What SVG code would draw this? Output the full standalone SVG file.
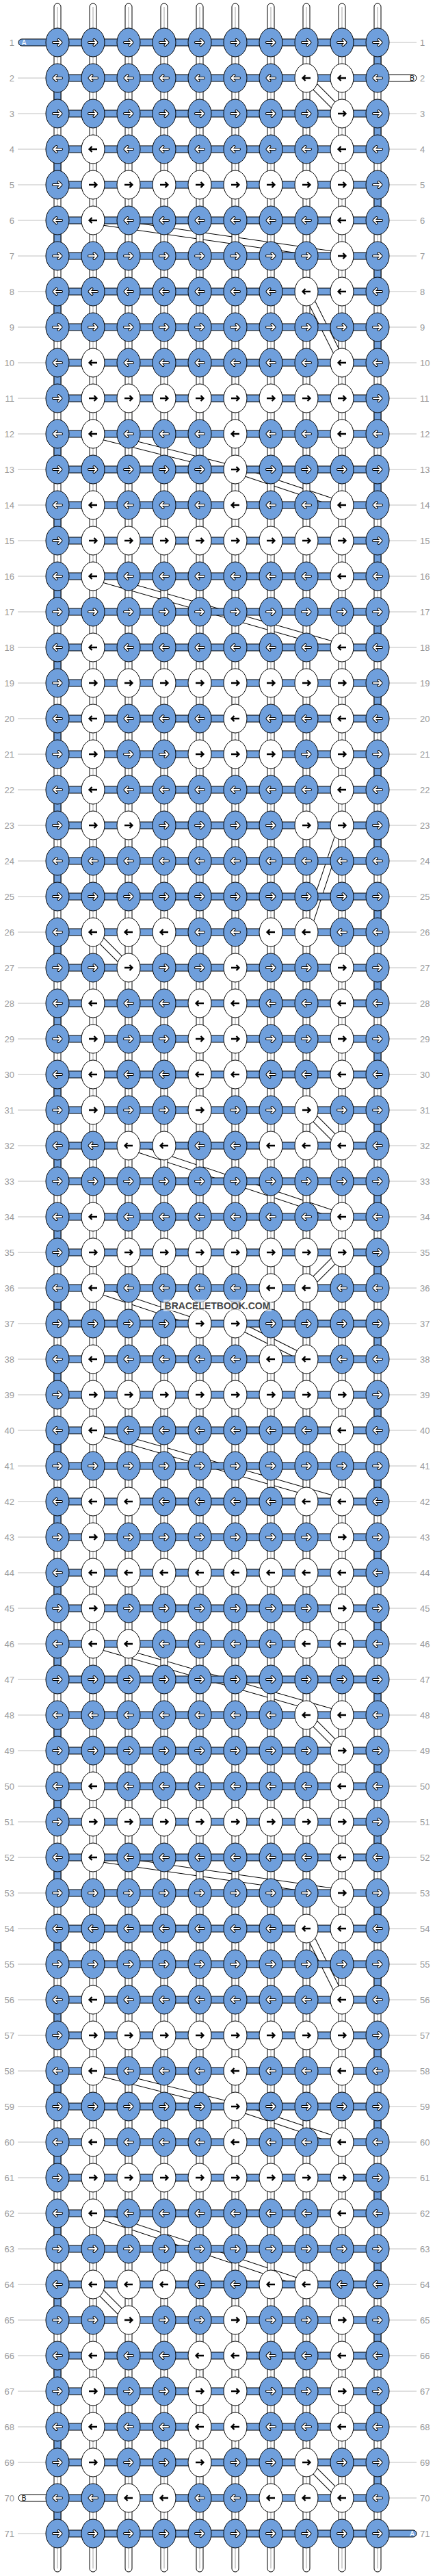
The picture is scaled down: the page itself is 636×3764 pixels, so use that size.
<svg xmlns="http://www.w3.org/2000/svg" xmlns:xlink="http://www.w3.org/1999/xlink" width="636" height="3764" viewBox="0 0 636 3764">
<style>
.eb{fill:#6f9fdc;stroke:#000;stroke-width:1}
.ew{fill:#fff;stroke:#000;stroke-width:1}
.ao{fill:none;stroke:#000;stroke-width:4;stroke-linecap:round;stroke-linejoin:round}
.ai{fill:none;stroke:#fff;stroke-width:2;stroke-linecap:round;stroke-linejoin:round}
.ak{fill:none;stroke:#000;stroke-width:2.3;stroke-linejoin:miter}
.bk{fill:none;stroke:#000;stroke-width:11}
.bw{fill:none;stroke:#fff;stroke-width:9}
.vt{fill:#fff;stroke:#000;stroke-width:1}
.vc{fill:none;stroke:#c4c4c4;stroke-width:1.5}
.ek{fill:none;stroke:#000;stroke-width:11;stroke-dasharray:52 52}
.eu{fill:none;stroke:#6f9fdc;stroke-width:9;stroke-dasharray:52 52}
.hs{fill:#6f9fdc;stroke:#000;stroke-width:1}
.tA{fill:#6f9fdc;stroke:#000;stroke-width:1}
.tB{fill:#fff;stroke:#000;stroke-width:1}
.ln{font-family:"Liberation Sans",Arial,sans-serif;font-size:13px;fill:#999}
.le{text-anchor:end}
.gl{fill:none;stroke:#c0c0c0;stroke-width:1}
.tl{font-family:"Liberation Sans",Arial,sans-serif;font-size:10px;text-anchor:middle}
.wm{font-family:"Liberation Sans",Arial,sans-serif;font-size:14px;font-weight:bold;fill:#444;text-anchor:middle}
</style>
<defs>
<path id="ar" d="M-6,0H5M1.5,-4L5.5,0L1.5,4"/>
<path id="al" d="M6,0H-5M-1.5,-4L-5.5,0L-1.5,4"/>
<g id="RB"><ellipse class="eb" rx="17" ry="21"/><use href="#ar" class="ao"/><use href="#ar" class="ai"/></g>
<g id="LB"><ellipse class="eb" rx="17" ry="21"/><use href="#al" class="ao"/><use href="#al" class="ai"/></g>
<g id="RW"><ellipse class="ew" rx="17" ry="21"/><use href="#ar" class="ak"/></g>
<g id="LW"><ellipse class="ew" rx="17" ry="21"/><use href="#al" class="ak"/></g>
<path id="bands" d="M448,114L500,166M136,322L500,374M448,426L500,530M136,634L344,686M344,686L500,738M136,842L500,946M500,1206L448,1362M136,1362L188,1414M448,1622L500,1674M188,1674L500,1778M500,1830L448,1882M136,1882L292,1934M344,1934L448,1986M136,2090L500,2194M136,2402L500,2506M448,2506L500,2558M136,2714L500,2766M448,2818L500,2922M136,3026L344,3078M344,3078L500,3130M136,3234L448,3338M136,3338L188,3390M448,3598L500,3650"/>
</defs>
<rect width="636" height="3764" fill="#fff"/>
<g id="connectors">
<use href="#bands" class="bk"/>
<use href="#bands" class="bw"/>
<g id="columns">
<rect class="vt" x="79" y="5" width="10" height="3753" rx="5"/>
<rect class="vt" x="131" y="5" width="10" height="3753" rx="5"/>
<rect class="vt" x="183" y="5" width="10" height="3753" rx="5"/>
<rect class="vt" x="235" y="5" width="10" height="3753" rx="5"/>
<rect class="vt" x="287" y="5" width="10" height="3753" rx="5"/>
<rect class="vt" x="339" y="5" width="10" height="3753" rx="5"/>
<rect class="vt" x="391" y="5" width="10" height="3753" rx="5"/>
<rect class="vt" x="443" y="5" width="10" height="3753" rx="5"/>
<rect class="vt" x="495" y="5" width="10" height="3753" rx="5"/>
<rect class="vt" x="547" y="5" width="10" height="3753" rx="5"/>
<path class="vc" d="M84,10V3753M136,10V3753M188,10V3753M240,10V3753M292,10V3753M344,10V3753M396,10V3753M448,10V3753M500,10V3753M552,10V3753"/>
</g>
<g id="edges">
<path class="ek" d="M84,114V3702"/><path class="eu" d="M84,114V3702"/>
<path class="ek" d="M552,62V3702"/><path class="eu" d="M552,62V3702"/>
</g>
<g id="rows-h">
<rect class="hs" x="84" y="57" width="468" height="10"/><rect class="hs" x="84" y="109" width="468" height="10"/><rect class="hs" x="84" y="161" width="468" height="10"/><rect class="hs" x="84" y="213" width="468" height="10"/><rect class="hs" x="84" y="265" width="468" height="10"/><rect class="hs" x="84" y="317" width="468" height="10"/><rect class="hs" x="84" y="369" width="468" height="10"/><rect class="hs" x="84" y="421" width="468" height="10"/><rect class="hs" x="84" y="473" width="468" height="10"/><rect class="hs" x="84" y="525" width="468" height="10"/>
<rect class="hs" x="84" y="577" width="468" height="10"/><rect class="hs" x="84" y="629" width="468" height="10"/><rect class="hs" x="84" y="681" width="468" height="10"/><rect class="hs" x="84" y="733" width="468" height="10"/><rect class="hs" x="84" y="785" width="468" height="10"/><rect class="hs" x="84" y="837" width="468" height="10"/><rect class="hs" x="84" y="889" width="468" height="10"/><rect class="hs" x="84" y="941" width="468" height="10"/><rect class="hs" x="84" y="993" width="468" height="10"/><rect class="hs" x="84" y="1045" width="468" height="10"/>
<rect class="hs" x="84" y="1097" width="468" height="10"/><rect class="hs" x="84" y="1149" width="468" height="10"/><rect class="hs" x="84" y="1201" width="468" height="10"/><rect class="hs" x="84" y="1253" width="468" height="10"/><rect class="hs" x="84" y="1305" width="468" height="10"/><rect class="hs" x="84" y="1357" width="468" height="10"/><rect class="hs" x="84" y="1409" width="468" height="10"/><rect class="hs" x="84" y="1461" width="468" height="10"/><rect class="hs" x="84" y="1513" width="468" height="10"/><rect class="hs" x="84" y="1565" width="468" height="10"/>
<rect class="hs" x="84" y="1617" width="468" height="10"/><rect class="hs" x="84" y="1669" width="468" height="10"/><rect class="hs" x="84" y="1721" width="468" height="10"/><rect class="hs" x="84" y="1773" width="468" height="10"/><rect class="hs" x="84" y="1825" width="468" height="10"/><rect class="hs" x="84" y="1877" width="468" height="10"/><rect class="hs" x="84" y="1929" width="468" height="10"/><rect class="hs" x="84" y="1981" width="468" height="10"/><rect class="hs" x="84" y="2033" width="468" height="10"/><rect class="hs" x="84" y="2085" width="468" height="10"/>
<rect class="hs" x="84" y="2137" width="468" height="10"/><rect class="hs" x="84" y="2189" width="468" height="10"/><rect class="hs" x="84" y="2241" width="468" height="10"/><rect class="hs" x="84" y="2293" width="468" height="10"/><rect class="hs" x="84" y="2345" width="468" height="10"/><rect class="hs" x="84" y="2397" width="468" height="10"/><rect class="hs" x="84" y="2449" width="468" height="10"/><rect class="hs" x="84" y="2501" width="468" height="10"/><rect class="hs" x="84" y="2553" width="468" height="10"/><rect class="hs" x="84" y="2605" width="468" height="10"/>
<rect class="hs" x="84" y="2657" width="468" height="10"/><rect class="hs" x="84" y="2709" width="468" height="10"/><rect class="hs" x="84" y="2761" width="468" height="10"/><rect class="hs" x="84" y="2813" width="468" height="10"/><rect class="hs" x="84" y="2865" width="468" height="10"/><rect class="hs" x="84" y="2917" width="468" height="10"/><rect class="hs" x="84" y="2969" width="468" height="10"/><rect class="hs" x="84" y="3021" width="468" height="10"/><rect class="hs" x="84" y="3073" width="468" height="10"/><rect class="hs" x="84" y="3125" width="468" height="10"/>
<rect class="hs" x="84" y="3177" width="468" height="10"/><rect class="hs" x="84" y="3229" width="468" height="10"/><rect class="hs" x="84" y="3281" width="468" height="10"/><rect class="hs" x="84" y="3333" width="468" height="10"/><rect class="hs" x="84" y="3385" width="468" height="10"/><rect class="hs" x="84" y="3437" width="468" height="10"/><rect class="hs" x="84" y="3489" width="468" height="10"/><rect class="hs" x="84" y="3541" width="468" height="10"/><rect class="hs" x="84" y="3593" width="468" height="10"/><rect class="hs" x="84" y="3645" width="468" height="10"/>
<rect class="hs" x="84" y="3697" width="468" height="10"/>
</g>
<g id="ends">
<rect class="tA" x="27" y="57" width="60" height="10" rx="5"/><text class="tl" x="35" y="65.5" fill="#fff">A</text>
<rect class="tB" x="549" y="109" width="60" height="10" rx="5"/><text class="tl" x="602.5" y="117.5" fill="#000">B</text>
<rect class="tB" x="27" y="3645" width="60" height="10" rx="5"/><text class="tl" x="35" y="3653.5" fill="#000">B</text>
<rect class="tA" x="549" y="3697" width="60" height="10" rx="5"/><text class="tl" x="602.5" y="3705.5" fill="#fff">A</text>
</g>
</g>
<g id="nodes">
<g id="row1" transform="translate(0,62)"><text class="ln le" x="21" y="4.5">1</text><text class="ln" x="614" y="4.5">1</text><path class="gl" d="M569,0H609"/><g id="n1-1"><use href="#RB" x="84"/></g><g id="n1-2"><use href="#RB" x="136"/></g><g id="n1-3"><use href="#RB" x="188"/></g><g id="n1-4"><use href="#RB" x="240"/></g><g id="n1-5"><use href="#RB" x="292"/></g><g id="n1-6"><use href="#RB" x="344"/></g><g id="n1-7"><use href="#RB" x="396"/></g><g id="n1-8"><use href="#RB" x="448"/></g><g id="n1-9"><use href="#RB" x="500"/></g><g id="n1-10"><use href="#RB" x="552"/></g></g>
<g id="row2" transform="translate(0,114)"><text class="ln le" x="21" y="4.5">2</text><text class="ln" x="614" y="4.5">2</text><path class="gl" d="M26,0H67"/><g id="n2-1"><use href="#LB" x="84"/></g><g id="n2-2"><use href="#LB" x="136"/></g><g id="n2-3"><use href="#LB" x="188"/></g><g id="n2-4"><use href="#LB" x="240"/></g><g id="n2-5"><use href="#LB" x="292"/></g><g id="n2-6"><use href="#LB" x="344"/></g><g id="n2-7"><use href="#LB" x="396"/></g><g id="n2-8"><use href="#LW" x="448"/></g><g id="n2-9"><use href="#LW" x="500"/></g><g id="n2-10"><use href="#LB" x="552"/></g></g>
<g id="row3" transform="translate(0,166)"><text class="ln le" x="21" y="4.5">3</text><text class="ln" x="614" y="4.5">3</text><path class="gl" d="M26,0H67M569,0H609"/><g id="n3-1"><use href="#RB" x="84"/></g><g id="n3-2"><use href="#RB" x="136"/></g><g id="n3-3"><use href="#RB" x="188"/></g><g id="n3-4"><use href="#RB" x="240"/></g><g id="n3-5"><use href="#RB" x="292"/></g><g id="n3-6"><use href="#RB" x="344"/></g><g id="n3-7"><use href="#RB" x="396"/></g><g id="n3-8"><use href="#RB" x="448"/></g><g id="n3-9"><use href="#RW" x="500"/></g><g id="n3-10"><use href="#RB" x="552"/></g></g>
<g id="row4" transform="translate(0,218)"><text class="ln le" x="21" y="4.5">4</text><text class="ln" x="614" y="4.5">4</text><path class="gl" d="M26,0H67M569,0H609"/><g id="n4-1"><use href="#LB" x="84"/></g><g id="n4-2"><use href="#LW" x="136"/></g><g id="n4-3"><use href="#LB" x="188"/></g><g id="n4-4"><use href="#LB" x="240"/></g><g id="n4-5"><use href="#LB" x="292"/></g><g id="n4-6"><use href="#LB" x="344"/></g><g id="n4-7"><use href="#LB" x="396"/></g><g id="n4-8"><use href="#LB" x="448"/></g><g id="n4-9"><use href="#LW" x="500"/></g><g id="n4-10"><use href="#LB" x="552"/></g></g>
<g id="row5" transform="translate(0,270)"><text class="ln le" x="21" y="4.5">5</text><text class="ln" x="614" y="4.5">5</text><path class="gl" d="M26,0H67M569,0H609"/><g id="n5-1"><use href="#RB" x="84"/></g><g id="n5-2"><use href="#RW" x="136"/></g><g id="n5-3"><use href="#RW" x="188"/></g><g id="n5-4"><use href="#RW" x="240"/></g><g id="n5-5"><use href="#RW" x="292"/></g><g id="n5-6"><use href="#RW" x="344"/></g><g id="n5-7"><use href="#RW" x="396"/></g><g id="n5-8"><use href="#RW" x="448"/></g><g id="n5-9"><use href="#RW" x="500"/></g><g id="n5-10"><use href="#RB" x="552"/></g></g>
<g id="row6" transform="translate(0,322)"><text class="ln le" x="21" y="4.5">6</text><text class="ln" x="614" y="4.5">6</text><path class="gl" d="M26,0H67M569,0H609"/><g id="n6-1"><use href="#LB" x="84"/></g><g id="n6-2"><use href="#LW" x="136"/></g><g id="n6-3"><use href="#LB" x="188"/></g><g id="n6-4"><use href="#LB" x="240"/></g><g id="n6-5"><use href="#LB" x="292"/></g><g id="n6-6"><use href="#LB" x="344"/></g><g id="n6-7"><use href="#LB" x="396"/></g><g id="n6-8"><use href="#LB" x="448"/></g><g id="n6-9"><use href="#LW" x="500"/></g><g id="n6-10"><use href="#LB" x="552"/></g></g>
<g id="row7" transform="translate(0,374)"><text class="ln le" x="21" y="4.5">7</text><text class="ln" x="614" y="4.5">7</text><path class="gl" d="M26,0H67M569,0H609"/><g id="n7-1"><use href="#RB" x="84"/></g><g id="n7-2"><use href="#RB" x="136"/></g><g id="n7-3"><use href="#RB" x="188"/></g><g id="n7-4"><use href="#RB" x="240"/></g><g id="n7-5"><use href="#RB" x="292"/></g><g id="n7-6"><use href="#RB" x="344"/></g><g id="n7-7"><use href="#RB" x="396"/></g><g id="n7-8"><use href="#RB" x="448"/></g><g id="n7-9"><use href="#RW" x="500"/></g><g id="n7-10"><use href="#RB" x="552"/></g></g>
<g id="row8" transform="translate(0,426)"><text class="ln le" x="21" y="4.5">8</text><text class="ln" x="614" y="4.5">8</text><path class="gl" d="M26,0H67M569,0H609"/><g id="n8-1"><use href="#LB" x="84"/></g><g id="n8-2"><use href="#LB" x="136"/></g><g id="n8-3"><use href="#LB" x="188"/></g><g id="n8-4"><use href="#LB" x="240"/></g><g id="n8-5"><use href="#LB" x="292"/></g><g id="n8-6"><use href="#LB" x="344"/></g><g id="n8-7"><use href="#LB" x="396"/></g><g id="n8-8"><use href="#LW" x="448"/></g><g id="n8-9"><use href="#LW" x="500"/></g><g id="n8-10"><use href="#LB" x="552"/></g></g>
<g id="row9" transform="translate(0,478)"><text class="ln le" x="21" y="4.5">9</text><text class="ln" x="614" y="4.5">9</text><path class="gl" d="M26,0H67M569,0H609"/><g id="n9-1"><use href="#RB" x="84"/></g><g id="n9-2"><use href="#RB" x="136"/></g><g id="n9-3"><use href="#RB" x="188"/></g><g id="n9-4"><use href="#RB" x="240"/></g><g id="n9-5"><use href="#RB" x="292"/></g><g id="n9-6"><use href="#RB" x="344"/></g><g id="n9-7"><use href="#RB" x="396"/></g><g id="n9-8"><use href="#RB" x="448"/></g><g id="n9-9"><use href="#RB" x="500"/></g><g id="n9-10"><use href="#RB" x="552"/></g></g>
<g id="row10" transform="translate(0,530)"><text class="ln le" x="21" y="4.5">10</text><text class="ln" x="614" y="4.5">10</text><path class="gl" d="M26,0H67M569,0H609"/><g id="n10-1"><use href="#LB" x="84"/></g><g id="n10-2"><use href="#LW" x="136"/></g><g id="n10-3"><use href="#LB" x="188"/></g><g id="n10-4"><use href="#LB" x="240"/></g><g id="n10-5"><use href="#LB" x="292"/></g><g id="n10-6"><use href="#LB" x="344"/></g><g id="n10-7"><use href="#LB" x="396"/></g><g id="n10-8"><use href="#LB" x="448"/></g><g id="n10-9"><use href="#LW" x="500"/></g><g id="n10-10"><use href="#LB" x="552"/></g></g>
<g id="row11" transform="translate(0,582)"><text class="ln le" x="21" y="4.5">11</text><text class="ln" x="614" y="4.5">11</text><path class="gl" d="M26,0H67M569,0H609"/><g id="n11-1"><use href="#RB" x="84"/></g><g id="n11-2"><use href="#RW" x="136"/></g><g id="n11-3"><use href="#RW" x="188"/></g><g id="n11-4"><use href="#RW" x="240"/></g><g id="n11-5"><use href="#RW" x="292"/></g><g id="n11-6"><use href="#RW" x="344"/></g><g id="n11-7"><use href="#RW" x="396"/></g><g id="n11-8"><use href="#RW" x="448"/></g><g id="n11-9"><use href="#RW" x="500"/></g><g id="n11-10"><use href="#RB" x="552"/></g></g>
<g id="row12" transform="translate(0,634)"><text class="ln le" x="21" y="4.5">12</text><text class="ln" x="614" y="4.5">12</text><path class="gl" d="M26,0H67M569,0H609"/><g id="n12-1"><use href="#LB" x="84"/></g><g id="n12-2"><use href="#LW" x="136"/></g><g id="n12-3"><use href="#LB" x="188"/></g><g id="n12-4"><use href="#LB" x="240"/></g><g id="n12-5"><use href="#LB" x="292"/></g><g id="n12-6"><use href="#LW" x="344"/></g><g id="n12-7"><use href="#LB" x="396"/></g><g id="n12-8"><use href="#LB" x="448"/></g><g id="n12-9"><use href="#LW" x="500"/></g><g id="n12-10"><use href="#LB" x="552"/></g></g>
<g id="row13" transform="translate(0,686)"><text class="ln le" x="21" y="4.5">13</text><text class="ln" x="614" y="4.5">13</text><path class="gl" d="M26,0H67M569,0H609"/><g id="n13-1"><use href="#RB" x="84"/></g><g id="n13-2"><use href="#RB" x="136"/></g><g id="n13-3"><use href="#RB" x="188"/></g><g id="n13-4"><use href="#RB" x="240"/></g><g id="n13-5"><use href="#RB" x="292"/></g><g id="n13-6"><use href="#RW" x="344"/></g><g id="n13-7"><use href="#RB" x="396"/></g><g id="n13-8"><use href="#RB" x="448"/></g><g id="n13-9"><use href="#RB" x="500"/></g><g id="n13-10"><use href="#RB" x="552"/></g></g>
<g id="row14" transform="translate(0,738)"><text class="ln le" x="21" y="4.5">14</text><text class="ln" x="614" y="4.5">14</text><path class="gl" d="M26,0H67M569,0H609"/><g id="n14-1"><use href="#LB" x="84"/></g><g id="n14-2"><use href="#LW" x="136"/></g><g id="n14-3"><use href="#LB" x="188"/></g><g id="n14-4"><use href="#LB" x="240"/></g><g id="n14-5"><use href="#LB" x="292"/></g><g id="n14-6"><use href="#LW" x="344"/></g><g id="n14-7"><use href="#LB" x="396"/></g><g id="n14-8"><use href="#LB" x="448"/></g><g id="n14-9"><use href="#LW" x="500"/></g><g id="n14-10"><use href="#LB" x="552"/></g></g>
<g id="row15" transform="translate(0,790)"><text class="ln le" x="21" y="4.5">15</text><text class="ln" x="614" y="4.5">15</text><path class="gl" d="M26,0H67M569,0H609"/><g id="n15-1"><use href="#RB" x="84"/></g><g id="n15-2"><use href="#RW" x="136"/></g><g id="n15-3"><use href="#RW" x="188"/></g><g id="n15-4"><use href="#RW" x="240"/></g><g id="n15-5"><use href="#RW" x="292"/></g><g id="n15-6"><use href="#RW" x="344"/></g><g id="n15-7"><use href="#RW" x="396"/></g><g id="n15-8"><use href="#RW" x="448"/></g><g id="n15-9"><use href="#RW" x="500"/></g><g id="n15-10"><use href="#RB" x="552"/></g></g>
<g id="row16" transform="translate(0,842)"><text class="ln le" x="21" y="4.5">16</text><text class="ln" x="614" y="4.5">16</text><path class="gl" d="M26,0H67M569,0H609"/><g id="n16-1"><use href="#LB" x="84"/></g><g id="n16-2"><use href="#LW" x="136"/></g><g id="n16-3"><use href="#LB" x="188"/></g><g id="n16-4"><use href="#LB" x="240"/></g><g id="n16-5"><use href="#LB" x="292"/></g><g id="n16-6"><use href="#LB" x="344"/></g><g id="n16-7"><use href="#LB" x="396"/></g><g id="n16-8"><use href="#LB" x="448"/></g><g id="n16-9"><use href="#LW" x="500"/></g><g id="n16-10"><use href="#LB" x="552"/></g></g>
<g id="row17" transform="translate(0,894)"><text class="ln le" x="21" y="4.5">17</text><text class="ln" x="614" y="4.5">17</text><path class="gl" d="M26,0H67M569,0H609"/><g id="n17-1"><use href="#RB" x="84"/></g><g id="n17-2"><use href="#RB" x="136"/></g><g id="n17-3"><use href="#RB" x="188"/></g><g id="n17-4"><use href="#RB" x="240"/></g><g id="n17-5"><use href="#RB" x="292"/></g><g id="n17-6"><use href="#RB" x="344"/></g><g id="n17-7"><use href="#RB" x="396"/></g><g id="n17-8"><use href="#RB" x="448"/></g><g id="n17-9"><use href="#RB" x="500"/></g><g id="n17-10"><use href="#RB" x="552"/></g></g>
<g id="row18" transform="translate(0,946)"><text class="ln le" x="21" y="4.5">18</text><text class="ln" x="614" y="4.5">18</text><path class="gl" d="M26,0H67M569,0H609"/><g id="n18-1"><use href="#LB" x="84"/></g><g id="n18-2"><use href="#LW" x="136"/></g><g id="n18-3"><use href="#LB" x="188"/></g><g id="n18-4"><use href="#LB" x="240"/></g><g id="n18-5"><use href="#LB" x="292"/></g><g id="n18-6"><use href="#LB" x="344"/></g><g id="n18-7"><use href="#LB" x="396"/></g><g id="n18-8"><use href="#LB" x="448"/></g><g id="n18-9"><use href="#LW" x="500"/></g><g id="n18-10"><use href="#LB" x="552"/></g></g>
<g id="row19" transform="translate(0,998)"><text class="ln le" x="21" y="4.5">19</text><text class="ln" x="614" y="4.5">19</text><path class="gl" d="M26,0H67M569,0H609"/><g id="n19-1"><use href="#RB" x="84"/></g><g id="n19-2"><use href="#RW" x="136"/></g><g id="n19-3"><use href="#RW" x="188"/></g><g id="n19-4"><use href="#RW" x="240"/></g><g id="n19-5"><use href="#RW" x="292"/></g><g id="n19-6"><use href="#RW" x="344"/></g><g id="n19-7"><use href="#RW" x="396"/></g><g id="n19-8"><use href="#RW" x="448"/></g><g id="n19-9"><use href="#RW" x="500"/></g><g id="n19-10"><use href="#RB" x="552"/></g></g>
<g id="row20" transform="translate(0,1050)"><text class="ln le" x="21" y="4.5">20</text><text class="ln" x="614" y="4.5">20</text><path class="gl" d="M26,0H67M569,0H609"/><g id="n20-1"><use href="#LB" x="84"/></g><g id="n20-2"><use href="#LW" x="136"/></g><g id="n20-3"><use href="#LB" x="188"/></g><g id="n20-4"><use href="#LB" x="240"/></g><g id="n20-5"><use href="#LB" x="292"/></g><g id="n20-6"><use href="#LW" x="344"/></g><g id="n20-7"><use href="#LB" x="396"/></g><g id="n20-8"><use href="#LB" x="448"/></g><g id="n20-9"><use href="#LW" x="500"/></g><g id="n20-10"><use href="#LB" x="552"/></g></g>
<g id="row21" transform="translate(0,1102)"><text class="ln le" x="21" y="4.5">21</text><text class="ln" x="614" y="4.5">21</text><path class="gl" d="M26,0H67M569,0H609"/><g id="n21-1"><use href="#RB" x="84"/></g><g id="n21-2"><use href="#RW" x="136"/></g><g id="n21-3"><use href="#RB" x="188"/></g><g id="n21-4"><use href="#RB" x="240"/></g><g id="n21-5"><use href="#RW" x="292"/></g><g id="n21-6"><use href="#RW" x="344"/></g><g id="n21-7"><use href="#RW" x="396"/></g><g id="n21-8"><use href="#RB" x="448"/></g><g id="n21-9"><use href="#RW" x="500"/></g><g id="n21-10"><use href="#RB" x="552"/></g></g>
<g id="row22" transform="translate(0,1154)"><text class="ln le" x="21" y="4.5">22</text><text class="ln" x="614" y="4.5">22</text><path class="gl" d="M26,0H67M569,0H609"/><g id="n22-1"><use href="#LB" x="84"/></g><g id="n22-2"><use href="#LW" x="136"/></g><g id="n22-3"><use href="#LB" x="188"/></g><g id="n22-4"><use href="#LB" x="240"/></g><g id="n22-5"><use href="#LB" x="292"/></g><g id="n22-6"><use href="#LB" x="344"/></g><g id="n22-7"><use href="#LB" x="396"/></g><g id="n22-8"><use href="#LB" x="448"/></g><g id="n22-9"><use href="#LW" x="500"/></g><g id="n22-10"><use href="#LB" x="552"/></g></g>
<g id="row23" transform="translate(0,1206)"><text class="ln le" x="21" y="4.5">23</text><text class="ln" x="614" y="4.5">23</text><path class="gl" d="M26,0H67M569,0H609"/><g id="n23-1"><use href="#RB" x="84"/></g><g id="n23-2"><use href="#RW" x="136"/></g><g id="n23-3"><use href="#RW" x="188"/></g><g id="n23-4"><use href="#RB" x="240"/></g><g id="n23-5"><use href="#RB" x="292"/></g><g id="n23-6"><use href="#RB" x="344"/></g><g id="n23-7"><use href="#RB" x="396"/></g><g id="n23-8"><use href="#RW" x="448"/></g><g id="n23-9"><use href="#RW" x="500"/></g><g id="n23-10"><use href="#RB" x="552"/></g></g>
<g id="row24" transform="translate(0,1258)"><text class="ln le" x="21" y="4.5">24</text><text class="ln" x="614" y="4.5">24</text><path class="gl" d="M26,0H67M569,0H609"/><g id="n24-1"><use href="#LB" x="84"/></g><g id="n24-2"><use href="#LB" x="136"/></g><g id="n24-3"><use href="#LB" x="188"/></g><g id="n24-4"><use href="#LB" x="240"/></g><g id="n24-5"><use href="#LB" x="292"/></g><g id="n24-6"><use href="#LB" x="344"/></g><g id="n24-7"><use href="#LB" x="396"/></g><g id="n24-8"><use href="#LB" x="448"/></g><g id="n24-9"><use href="#LB" x="500"/></g><g id="n24-10"><use href="#LB" x="552"/></g></g>
<g id="row25" transform="translate(0,1310)"><text class="ln le" x="21" y="4.5">25</text><text class="ln" x="614" y="4.5">25</text><path class="gl" d="M26,0H67M569,0H609"/><g id="n25-1"><use href="#RB" x="84"/></g><g id="n25-2"><use href="#RB" x="136"/></g><g id="n25-3"><use href="#RB" x="188"/></g><g id="n25-4"><use href="#RB" x="240"/></g><g id="n25-5"><use href="#RB" x="292"/></g><g id="n25-6"><use href="#RB" x="344"/></g><g id="n25-7"><use href="#RB" x="396"/></g><g id="n25-8"><use href="#RB" x="448"/></g><g id="n25-9"><use href="#RB" x="500"/></g><g id="n25-10"><use href="#RB" x="552"/></g></g>
<g id="row26" transform="translate(0,1362)"><text class="ln le" x="21" y="4.5">26</text><text class="ln" x="614" y="4.5">26</text><path class="gl" d="M26,0H67M569,0H609"/><g id="n26-1"><use href="#LB" x="84"/></g><g id="n26-2"><use href="#LW" x="136"/></g><g id="n26-3"><use href="#LW" x="188"/></g><g id="n26-4"><use href="#LW" x="240"/></g><g id="n26-5"><use href="#LB" x="292"/></g><g id="n26-6"><use href="#LB" x="344"/></g><g id="n26-7"><use href="#LW" x="396"/></g><g id="n26-8"><use href="#LW" x="448"/></g><g id="n26-9"><use href="#LB" x="500"/></g><g id="n26-10"><use href="#LB" x="552"/></g></g>
<g id="row27" transform="translate(0,1414)"><text class="ln le" x="21" y="4.5">27</text><text class="ln" x="614" y="4.5">27</text><path class="gl" d="M26,0H67M569,0H609"/><g id="n27-1"><use href="#RB" x="84"/></g><g id="n27-2"><use href="#RB" x="136"/></g><g id="n27-3"><use href="#RW" x="188"/></g><g id="n27-4"><use href="#RB" x="240"/></g><g id="n27-5"><use href="#RB" x="292"/></g><g id="n27-6"><use href="#RW" x="344"/></g><g id="n27-7"><use href="#RB" x="396"/></g><g id="n27-8"><use href="#RB" x="448"/></g><g id="n27-9"><use href="#RW" x="500"/></g><g id="n27-10"><use href="#RB" x="552"/></g></g>
<g id="row28" transform="translate(0,1466)"><text class="ln le" x="21" y="4.5">28</text><text class="ln" x="614" y="4.5">28</text><path class="gl" d="M26,0H67M569,0H609"/><g id="n28-1"><use href="#LB" x="84"/></g><g id="n28-2"><use href="#LW" x="136"/></g><g id="n28-3"><use href="#LB" x="188"/></g><g id="n28-4"><use href="#LB" x="240"/></g><g id="n28-5"><use href="#LW" x="292"/></g><g id="n28-6"><use href="#LW" x="344"/></g><g id="n28-7"><use href="#LB" x="396"/></g><g id="n28-8"><use href="#LB" x="448"/></g><g id="n28-9"><use href="#LW" x="500"/></g><g id="n28-10"><use href="#LB" x="552"/></g></g>
<g id="row29" transform="translate(0,1518)"><text class="ln le" x="21" y="4.5">29</text><text class="ln" x="614" y="4.5">29</text><path class="gl" d="M26,0H67M569,0H609"/><g id="n29-1"><use href="#RB" x="84"/></g><g id="n29-2"><use href="#RW" x="136"/></g><g id="n29-3"><use href="#RB" x="188"/></g><g id="n29-4"><use href="#RB" x="240"/></g><g id="n29-5"><use href="#RW" x="292"/></g><g id="n29-6"><use href="#RW" x="344"/></g><g id="n29-7"><use href="#RB" x="396"/></g><g id="n29-8"><use href="#RB" x="448"/></g><g id="n29-9"><use href="#RW" x="500"/></g><g id="n29-10"><use href="#RB" x="552"/></g></g>
<g id="row30" transform="translate(0,1570)"><text class="ln le" x="21" y="4.5">30</text><text class="ln" x="614" y="4.5">30</text><path class="gl" d="M26,0H67M569,0H609"/><g id="n30-1"><use href="#LB" x="84"/></g><g id="n30-2"><use href="#LW" x="136"/></g><g id="n30-3"><use href="#LB" x="188"/></g><g id="n30-4"><use href="#LB" x="240"/></g><g id="n30-5"><use href="#LW" x="292"/></g><g id="n30-6"><use href="#LW" x="344"/></g><g id="n30-7"><use href="#LB" x="396"/></g><g id="n30-8"><use href="#LB" x="448"/></g><g id="n30-9"><use href="#LW" x="500"/></g><g id="n30-10"><use href="#LB" x="552"/></g></g>
<g id="row31" transform="translate(0,1622)"><text class="ln le" x="21" y="4.5">31</text><text class="ln" x="614" y="4.5">31</text><path class="gl" d="M26,0H67M569,0H609"/><g id="n31-1"><use href="#RB" x="84"/></g><g id="n31-2"><use href="#RW" x="136"/></g><g id="n31-3"><use href="#RB" x="188"/></g><g id="n31-4"><use href="#RB" x="240"/></g><g id="n31-5"><use href="#RW" x="292"/></g><g id="n31-6"><use href="#RB" x="344"/></g><g id="n31-7"><use href="#RB" x="396"/></g><g id="n31-8"><use href="#RW" x="448"/></g><g id="n31-9"><use href="#RB" x="500"/></g><g id="n31-10"><use href="#RB" x="552"/></g></g>
<g id="row32" transform="translate(0,1674)"><text class="ln le" x="21" y="4.5">32</text><text class="ln" x="614" y="4.5">32</text><path class="gl" d="M26,0H67M569,0H609"/><g id="n32-1"><use href="#LB" x="84"/></g><g id="n32-2"><use href="#LB" x="136"/></g><g id="n32-3"><use href="#LW" x="188"/></g><g id="n32-4"><use href="#LW" x="240"/></g><g id="n32-5"><use href="#LB" x="292"/></g><g id="n32-6"><use href="#LB" x="344"/></g><g id="n32-7"><use href="#LW" x="396"/></g><g id="n32-8"><use href="#LW" x="448"/></g><g id="n32-9"><use href="#LW" x="500"/></g><g id="n32-10"><use href="#LB" x="552"/></g></g>
<g id="row33" transform="translate(0,1726)"><text class="ln le" x="21" y="4.5">33</text><text class="ln" x="614" y="4.5">33</text><path class="gl" d="M26,0H67M569,0H609"/><g id="n33-1"><use href="#RB" x="84"/></g><g id="n33-2"><use href="#RB" x="136"/></g><g id="n33-3"><use href="#RB" x="188"/></g><g id="n33-4"><use href="#RB" x="240"/></g><g id="n33-5"><use href="#RB" x="292"/></g><g id="n33-6"><use href="#RB" x="344"/></g><g id="n33-7"><use href="#RB" x="396"/></g><g id="n33-8"><use href="#RB" x="448"/></g><g id="n33-9"><use href="#RB" x="500"/></g><g id="n33-10"><use href="#RB" x="552"/></g></g>
<g id="row34" transform="translate(0,1778)"><text class="ln le" x="21" y="4.5">34</text><text class="ln" x="614" y="4.5">34</text><path class="gl" d="M26,0H67M569,0H609"/><g id="n34-1"><use href="#LB" x="84"/></g><g id="n34-2"><use href="#LW" x="136"/></g><g id="n34-3"><use href="#LB" x="188"/></g><g id="n34-4"><use href="#LB" x="240"/></g><g id="n34-5"><use href="#LB" x="292"/></g><g id="n34-6"><use href="#LB" x="344"/></g><g id="n34-7"><use href="#LB" x="396"/></g><g id="n34-8"><use href="#LB" x="448"/></g><g id="n34-9"><use href="#LW" x="500"/></g><g id="n34-10"><use href="#LB" x="552"/></g></g>
<g id="row35" transform="translate(0,1830)"><text class="ln le" x="21" y="4.5">35</text><text class="ln" x="614" y="4.5">35</text><path class="gl" d="M26,0H67M569,0H609"/><g id="n35-1"><use href="#RB" x="84"/></g><g id="n35-2"><use href="#RW" x="136"/></g><g id="n35-3"><use href="#RW" x="188"/></g><g id="n35-4"><use href="#RW" x="240"/></g><g id="n35-5"><use href="#RW" x="292"/></g><g id="n35-6"><use href="#RW" x="344"/></g><g id="n35-7"><use href="#RW" x="396"/></g><g id="n35-8"><use href="#RW" x="448"/></g><g id="n35-9"><use href="#RW" x="500"/></g><g id="n35-10"><use href="#RB" x="552"/></g></g>
<g id="row36" transform="translate(0,1882)"><text class="ln le" x="21" y="4.5">36</text><text class="ln" x="614" y="4.5">36</text><path class="gl" d="M26,0H67M569,0H609"/><g id="n36-1"><use href="#LB" x="84"/></g><g id="n36-2"><use href="#LW" x="136"/></g><g id="n36-3"><use href="#LB" x="188"/></g><g id="n36-4"><use href="#LB" x="240"/></g><g id="n36-5"><use href="#LB" x="292"/></g><g id="n36-6"><use href="#LB" x="344"/></g><g id="n36-7"><use href="#LW" x="396"/></g><g id="n36-8"><use href="#LW" x="448"/></g><g id="n36-9"><use href="#LB" x="500"/></g><g id="n36-10"><use href="#LB" x="552"/></g></g>
<g id="row37" transform="translate(0,1934)"><text class="ln le" x="21" y="4.5">37</text><text class="ln" x="614" y="4.5">37</text><path class="gl" d="M26,0H67M569,0H609"/><g id="n37-1"><use href="#RB" x="84"/></g><g id="n37-2"><use href="#RB" x="136"/></g><g id="n37-3"><use href="#RB" x="188"/></g><g id="n37-4"><use href="#RB" x="240"/></g><g id="n37-5"><use href="#RW" x="292"/></g><g id="n37-6"><use href="#RW" x="344"/></g><g id="n37-7"><use href="#RB" x="396"/></g><g id="n37-8"><use href="#RB" x="448"/></g><g id="n37-9"><use href="#RB" x="500"/></g><g id="n37-10"><use href="#RB" x="552"/></g></g>
<g id="row38" transform="translate(0,1986)"><text class="ln le" x="21" y="4.5">38</text><text class="ln" x="614" y="4.5">38</text><path class="gl" d="M26,0H67M569,0H609"/><g id="n38-1"><use href="#LB" x="84"/></g><g id="n38-2"><use href="#LW" x="136"/></g><g id="n38-3"><use href="#LB" x="188"/></g><g id="n38-4"><use href="#LB" x="240"/></g><g id="n38-5"><use href="#LB" x="292"/></g><g id="n38-6"><use href="#LB" x="344"/></g><g id="n38-7"><use href="#LW" x="396"/></g><g id="n38-8"><use href="#LW" x="448"/></g><g id="n38-9"><use href="#LB" x="500"/></g><g id="n38-10"><use href="#LB" x="552"/></g></g>
<g id="row39" transform="translate(0,2038)"><text class="ln le" x="21" y="4.5">39</text><text class="ln" x="614" y="4.5">39</text><path class="gl" d="M26,0H67M569,0H609"/><g id="n39-1"><use href="#RB" x="84"/></g><g id="n39-2"><use href="#RW" x="136"/></g><g id="n39-3"><use href="#RW" x="188"/></g><g id="n39-4"><use href="#RW" x="240"/></g><g id="n39-5"><use href="#RW" x="292"/></g><g id="n39-6"><use href="#RW" x="344"/></g><g id="n39-7"><use href="#RW" x="396"/></g><g id="n39-8"><use href="#RW" x="448"/></g><g id="n39-9"><use href="#RW" x="500"/></g><g id="n39-10"><use href="#RB" x="552"/></g></g>
<g id="row40" transform="translate(0,2090)"><text class="ln le" x="21" y="4.5">40</text><text class="ln" x="614" y="4.5">40</text><path class="gl" d="M26,0H67M569,0H609"/><g id="n40-1"><use href="#LB" x="84"/></g><g id="n40-2"><use href="#LW" x="136"/></g><g id="n40-3"><use href="#LB" x="188"/></g><g id="n40-4"><use href="#LB" x="240"/></g><g id="n40-5"><use href="#LB" x="292"/></g><g id="n40-6"><use href="#LB" x="344"/></g><g id="n40-7"><use href="#LB" x="396"/></g><g id="n40-8"><use href="#LB" x="448"/></g><g id="n40-9"><use href="#LW" x="500"/></g><g id="n40-10"><use href="#LB" x="552"/></g></g>
<g id="row41" transform="translate(0,2142)"><text class="ln le" x="21" y="4.5">41</text><text class="ln" x="614" y="4.5">41</text><path class="gl" d="M26,0H67M569,0H609"/><g id="n41-1"><use href="#RB" x="84"/></g><g id="n41-2"><use href="#RB" x="136"/></g><g id="n41-3"><use href="#RB" x="188"/></g><g id="n41-4"><use href="#RB" x="240"/></g><g id="n41-5"><use href="#RB" x="292"/></g><g id="n41-6"><use href="#RB" x="344"/></g><g id="n41-7"><use href="#RB" x="396"/></g><g id="n41-8"><use href="#RB" x="448"/></g><g id="n41-9"><use href="#RB" x="500"/></g><g id="n41-10"><use href="#RB" x="552"/></g></g>
<g id="row42" transform="translate(0,2194)"><text class="ln le" x="21" y="4.5">42</text><text class="ln" x="614" y="4.5">42</text><path class="gl" d="M26,0H67M569,0H609"/><g id="n42-1"><use href="#LB" x="84"/></g><g id="n42-2"><use href="#LW" x="136"/></g><g id="n42-3"><use href="#LW" x="188"/></g><g id="n42-4"><use href="#LB" x="240"/></g><g id="n42-5"><use href="#LB" x="292"/></g><g id="n42-6"><use href="#LB" x="344"/></g><g id="n42-7"><use href="#LB" x="396"/></g><g id="n42-8"><use href="#LW" x="448"/></g><g id="n42-9"><use href="#LW" x="500"/></g><g id="n42-10"><use href="#LB" x="552"/></g></g>
<g id="row43" transform="translate(0,2246)"><text class="ln le" x="21" y="4.5">43</text><text class="ln" x="614" y="4.5">43</text><path class="gl" d="M26,0H67M569,0H609"/><g id="n43-1"><use href="#RB" x="84"/></g><g id="n43-2"><use href="#RW" x="136"/></g><g id="n43-3"><use href="#RB" x="188"/></g><g id="n43-4"><use href="#RB" x="240"/></g><g id="n43-5"><use href="#RB" x="292"/></g><g id="n43-6"><use href="#RB" x="344"/></g><g id="n43-7"><use href="#RB" x="396"/></g><g id="n43-8"><use href="#RB" x="448"/></g><g id="n43-9"><use href="#RW" x="500"/></g><g id="n43-10"><use href="#RB" x="552"/></g></g>
<g id="row44" transform="translate(0,2298)"><text class="ln le" x="21" y="4.5">44</text><text class="ln" x="614" y="4.5">44</text><path class="gl" d="M26,0H67M569,0H609"/><g id="n44-1"><use href="#LB" x="84"/></g><g id="n44-2"><use href="#LW" x="136"/></g><g id="n44-3"><use href="#LW" x="188"/></g><g id="n44-4"><use href="#LW" x="240"/></g><g id="n44-5"><use href="#LW" x="292"/></g><g id="n44-6"><use href="#LW" x="344"/></g><g id="n44-7"><use href="#LW" x="396"/></g><g id="n44-8"><use href="#LW" x="448"/></g><g id="n44-9"><use href="#LW" x="500"/></g><g id="n44-10"><use href="#LB" x="552"/></g></g>
<g id="row45" transform="translate(0,2350)"><text class="ln le" x="21" y="4.5">45</text><text class="ln" x="614" y="4.5">45</text><path class="gl" d="M26,0H67M569,0H609"/><g id="n45-1"><use href="#RB" x="84"/></g><g id="n45-2"><use href="#RW" x="136"/></g><g id="n45-3"><use href="#RB" x="188"/></g><g id="n45-4"><use href="#RB" x="240"/></g><g id="n45-5"><use href="#RB" x="292"/></g><g id="n45-6"><use href="#RB" x="344"/></g><g id="n45-7"><use href="#RB" x="396"/></g><g id="n45-8"><use href="#RB" x="448"/></g><g id="n45-9"><use href="#RW" x="500"/></g><g id="n45-10"><use href="#RB" x="552"/></g></g>
<g id="row46" transform="translate(0,2402)"><text class="ln le" x="21" y="4.5">46</text><text class="ln" x="614" y="4.5">46</text><path class="gl" d="M26,0H67M569,0H609"/><g id="n46-1"><use href="#LB" x="84"/></g><g id="n46-2"><use href="#LW" x="136"/></g><g id="n46-3"><use href="#LW" x="188"/></g><g id="n46-4"><use href="#LB" x="240"/></g><g id="n46-5"><use href="#LB" x="292"/></g><g id="n46-6"><use href="#LB" x="344"/></g><g id="n46-7"><use href="#LB" x="396"/></g><g id="n46-8"><use href="#LW" x="448"/></g><g id="n46-9"><use href="#LW" x="500"/></g><g id="n46-10"><use href="#LB" x="552"/></g></g>
<g id="row47" transform="translate(0,2454)"><text class="ln le" x="21" y="4.5">47</text><text class="ln" x="614" y="4.5">47</text><path class="gl" d="M26,0H67M569,0H609"/><g id="n47-1"><use href="#RB" x="84"/></g><g id="n47-2"><use href="#RB" x="136"/></g><g id="n47-3"><use href="#RB" x="188"/></g><g id="n47-4"><use href="#RB" x="240"/></g><g id="n47-5"><use href="#RB" x="292"/></g><g id="n47-6"><use href="#RB" x="344"/></g><g id="n47-7"><use href="#RB" x="396"/></g><g id="n47-8"><use href="#RB" x="448"/></g><g id="n47-9"><use href="#RB" x="500"/></g><g id="n47-10"><use href="#RB" x="552"/></g></g>
<g id="row48" transform="translate(0,2506)"><text class="ln le" x="21" y="4.5">48</text><text class="ln" x="614" y="4.5">48</text><path class="gl" d="M26,0H67M569,0H609"/><g id="n48-1"><use href="#LB" x="84"/></g><g id="n48-2"><use href="#LB" x="136"/></g><g id="n48-3"><use href="#LB" x="188"/></g><g id="n48-4"><use href="#LB" x="240"/></g><g id="n48-5"><use href="#LB" x="292"/></g><g id="n48-6"><use href="#LB" x="344"/></g><g id="n48-7"><use href="#LB" x="396"/></g><g id="n48-8"><use href="#LW" x="448"/></g><g id="n48-9"><use href="#LW" x="500"/></g><g id="n48-10"><use href="#LB" x="552"/></g></g>
<g id="row49" transform="translate(0,2558)"><text class="ln le" x="21" y="4.5">49</text><text class="ln" x="614" y="4.5">49</text><path class="gl" d="M26,0H67M569,0H609"/><g id="n49-1"><use href="#RB" x="84"/></g><g id="n49-2"><use href="#RB" x="136"/></g><g id="n49-3"><use href="#RB" x="188"/></g><g id="n49-4"><use href="#RB" x="240"/></g><g id="n49-5"><use href="#RB" x="292"/></g><g id="n49-6"><use href="#RB" x="344"/></g><g id="n49-7"><use href="#RB" x="396"/></g><g id="n49-8"><use href="#RB" x="448"/></g><g id="n49-9"><use href="#RW" x="500"/></g><g id="n49-10"><use href="#RB" x="552"/></g></g>
<g id="row50" transform="translate(0,2610)"><text class="ln le" x="21" y="4.5">50</text><text class="ln" x="614" y="4.5">50</text><path class="gl" d="M26,0H67M569,0H609"/><g id="n50-1"><use href="#LB" x="84"/></g><g id="n50-2"><use href="#LW" x="136"/></g><g id="n50-3"><use href="#LB" x="188"/></g><g id="n50-4"><use href="#LB" x="240"/></g><g id="n50-5"><use href="#LB" x="292"/></g><g id="n50-6"><use href="#LB" x="344"/></g><g id="n50-7"><use href="#LB" x="396"/></g><g id="n50-8"><use href="#LB" x="448"/></g><g id="n50-9"><use href="#LW" x="500"/></g><g id="n50-10"><use href="#LB" x="552"/></g></g>
<g id="row51" transform="translate(0,2662)"><text class="ln le" x="21" y="4.5">51</text><text class="ln" x="614" y="4.5">51</text><path class="gl" d="M26,0H67M569,0H609"/><g id="n51-1"><use href="#RB" x="84"/></g><g id="n51-2"><use href="#RW" x="136"/></g><g id="n51-3"><use href="#RW" x="188"/></g><g id="n51-4"><use href="#RW" x="240"/></g><g id="n51-5"><use href="#RW" x="292"/></g><g id="n51-6"><use href="#RW" x="344"/></g><g id="n51-7"><use href="#RW" x="396"/></g><g id="n51-8"><use href="#RW" x="448"/></g><g id="n51-9"><use href="#RW" x="500"/></g><g id="n51-10"><use href="#RB" x="552"/></g></g>
<g id="row52" transform="translate(0,2714)"><text class="ln le" x="21" y="4.5">52</text><text class="ln" x="614" y="4.5">52</text><path class="gl" d="M26,0H67M569,0H609"/><g id="n52-1"><use href="#LB" x="84"/></g><g id="n52-2"><use href="#LW" x="136"/></g><g id="n52-3"><use href="#LB" x="188"/></g><g id="n52-4"><use href="#LB" x="240"/></g><g id="n52-5"><use href="#LB" x="292"/></g><g id="n52-6"><use href="#LB" x="344"/></g><g id="n52-7"><use href="#LB" x="396"/></g><g id="n52-8"><use href="#LB" x="448"/></g><g id="n52-9"><use href="#LW" x="500"/></g><g id="n52-10"><use href="#LB" x="552"/></g></g>
<g id="row53" transform="translate(0,2766)"><text class="ln le" x="21" y="4.5">53</text><text class="ln" x="614" y="4.5">53</text><path class="gl" d="M26,0H67M569,0H609"/><g id="n53-1"><use href="#RB" x="84"/></g><g id="n53-2"><use href="#RB" x="136"/></g><g id="n53-3"><use href="#RB" x="188"/></g><g id="n53-4"><use href="#RB" x="240"/></g><g id="n53-5"><use href="#RB" x="292"/></g><g id="n53-6"><use href="#RB" x="344"/></g><g id="n53-7"><use href="#RB" x="396"/></g><g id="n53-8"><use href="#RB" x="448"/></g><g id="n53-9"><use href="#RW" x="500"/></g><g id="n53-10"><use href="#RB" x="552"/></g></g>
<g id="row54" transform="translate(0,2818)"><text class="ln le" x="21" y="4.5">54</text><text class="ln" x="614" y="4.5">54</text><path class="gl" d="M26,0H67M569,0H609"/><g id="n54-1"><use href="#LB" x="84"/></g><g id="n54-2"><use href="#LB" x="136"/></g><g id="n54-3"><use href="#LB" x="188"/></g><g id="n54-4"><use href="#LB" x="240"/></g><g id="n54-5"><use href="#LB" x="292"/></g><g id="n54-6"><use href="#LB" x="344"/></g><g id="n54-7"><use href="#LB" x="396"/></g><g id="n54-8"><use href="#LW" x="448"/></g><g id="n54-9"><use href="#LW" x="500"/></g><g id="n54-10"><use href="#LB" x="552"/></g></g>
<g id="row55" transform="translate(0,2870)"><text class="ln le" x="21" y="4.5">55</text><text class="ln" x="614" y="4.5">55</text><path class="gl" d="M26,0H67M569,0H609"/><g id="n55-1"><use href="#RB" x="84"/></g><g id="n55-2"><use href="#RB" x="136"/></g><g id="n55-3"><use href="#RB" x="188"/></g><g id="n55-4"><use href="#RB" x="240"/></g><g id="n55-5"><use href="#RB" x="292"/></g><g id="n55-6"><use href="#RB" x="344"/></g><g id="n55-7"><use href="#RB" x="396"/></g><g id="n55-8"><use href="#RB" x="448"/></g><g id="n55-9"><use href="#RB" x="500"/></g><g id="n55-10"><use href="#RB" x="552"/></g></g>
<g id="row56" transform="translate(0,2922)"><text class="ln le" x="21" y="4.5">56</text><text class="ln" x="614" y="4.5">56</text><path class="gl" d="M26,0H67M569,0H609"/><g id="n56-1"><use href="#LB" x="84"/></g><g id="n56-2"><use href="#LW" x="136"/></g><g id="n56-3"><use href="#LB" x="188"/></g><g id="n56-4"><use href="#LB" x="240"/></g><g id="n56-5"><use href="#LB" x="292"/></g><g id="n56-6"><use href="#LB" x="344"/></g><g id="n56-7"><use href="#LB" x="396"/></g><g id="n56-8"><use href="#LB" x="448"/></g><g id="n56-9"><use href="#LW" x="500"/></g><g id="n56-10"><use href="#LB" x="552"/></g></g>
<g id="row57" transform="translate(0,2974)"><text class="ln le" x="21" y="4.5">57</text><text class="ln" x="614" y="4.5">57</text><path class="gl" d="M26,0H67M569,0H609"/><g id="n57-1"><use href="#RB" x="84"/></g><g id="n57-2"><use href="#RW" x="136"/></g><g id="n57-3"><use href="#RW" x="188"/></g><g id="n57-4"><use href="#RW" x="240"/></g><g id="n57-5"><use href="#RW" x="292"/></g><g id="n57-6"><use href="#RW" x="344"/></g><g id="n57-7"><use href="#RW" x="396"/></g><g id="n57-8"><use href="#RW" x="448"/></g><g id="n57-9"><use href="#RW" x="500"/></g><g id="n57-10"><use href="#RB" x="552"/></g></g>
<g id="row58" transform="translate(0,3026)"><text class="ln le" x="21" y="4.5">58</text><text class="ln" x="614" y="4.5">58</text><path class="gl" d="M26,0H67M569,0H609"/><g id="n58-1"><use href="#LB" x="84"/></g><g id="n58-2"><use href="#LW" x="136"/></g><g id="n58-3"><use href="#LB" x="188"/></g><g id="n58-4"><use href="#LB" x="240"/></g><g id="n58-5"><use href="#LB" x="292"/></g><g id="n58-6"><use href="#LW" x="344"/></g><g id="n58-7"><use href="#LB" x="396"/></g><g id="n58-8"><use href="#LB" x="448"/></g><g id="n58-9"><use href="#LW" x="500"/></g><g id="n58-10"><use href="#LB" x="552"/></g></g>
<g id="row59" transform="translate(0,3078)"><text class="ln le" x="21" y="4.5">59</text><text class="ln" x="614" y="4.5">59</text><path class="gl" d="M26,0H67M569,0H609"/><g id="n59-1"><use href="#RB" x="84"/></g><g id="n59-2"><use href="#RB" x="136"/></g><g id="n59-3"><use href="#RB" x="188"/></g><g id="n59-4"><use href="#RB" x="240"/></g><g id="n59-5"><use href="#RB" x="292"/></g><g id="n59-6"><use href="#RW" x="344"/></g><g id="n59-7"><use href="#RB" x="396"/></g><g id="n59-8"><use href="#RB" x="448"/></g><g id="n59-9"><use href="#RB" x="500"/></g><g id="n59-10"><use href="#RB" x="552"/></g></g>
<g id="row60" transform="translate(0,3130)"><text class="ln le" x="21" y="4.5">60</text><text class="ln" x="614" y="4.5">60</text><path class="gl" d="M26,0H67M569,0H609"/><g id="n60-1"><use href="#LB" x="84"/></g><g id="n60-2"><use href="#LW" x="136"/></g><g id="n60-3"><use href="#LB" x="188"/></g><g id="n60-4"><use href="#LB" x="240"/></g><g id="n60-5"><use href="#LB" x="292"/></g><g id="n60-6"><use href="#LW" x="344"/></g><g id="n60-7"><use href="#LB" x="396"/></g><g id="n60-8"><use href="#LB" x="448"/></g><g id="n60-9"><use href="#LW" x="500"/></g><g id="n60-10"><use href="#LB" x="552"/></g></g>
<g id="row61" transform="translate(0,3182)"><text class="ln le" x="21" y="4.5">61</text><text class="ln" x="614" y="4.5">61</text><path class="gl" d="M26,0H67M569,0H609"/><g id="n61-1"><use href="#RB" x="84"/></g><g id="n61-2"><use href="#RW" x="136"/></g><g id="n61-3"><use href="#RW" x="188"/></g><g id="n61-4"><use href="#RW" x="240"/></g><g id="n61-5"><use href="#RW" x="292"/></g><g id="n61-6"><use href="#RW" x="344"/></g><g id="n61-7"><use href="#RW" x="396"/></g><g id="n61-8"><use href="#RW" x="448"/></g><g id="n61-9"><use href="#RW" x="500"/></g><g id="n61-10"><use href="#RB" x="552"/></g></g>
<g id="row62" transform="translate(0,3234)"><text class="ln le" x="21" y="4.5">62</text><text class="ln" x="614" y="4.5">62</text><path class="gl" d="M26,0H67M569,0H609"/><g id="n62-1"><use href="#LB" x="84"/></g><g id="n62-2"><use href="#LW" x="136"/></g><g id="n62-3"><use href="#LB" x="188"/></g><g id="n62-4"><use href="#LB" x="240"/></g><g id="n62-5"><use href="#LB" x="292"/></g><g id="n62-6"><use href="#LB" x="344"/></g><g id="n62-7"><use href="#LB" x="396"/></g><g id="n62-8"><use href="#LB" x="448"/></g><g id="n62-9"><use href="#LW" x="500"/></g><g id="n62-10"><use href="#LB" x="552"/></g></g>
<g id="row63" transform="translate(0,3286)"><text class="ln le" x="21" y="4.5">63</text><text class="ln" x="614" y="4.5">63</text><path class="gl" d="M26,0H67M569,0H609"/><g id="n63-1"><use href="#RB" x="84"/></g><g id="n63-2"><use href="#RB" x="136"/></g><g id="n63-3"><use href="#RB" x="188"/></g><g id="n63-4"><use href="#RB" x="240"/></g><g id="n63-5"><use href="#RB" x="292"/></g><g id="n63-6"><use href="#RB" x="344"/></g><g id="n63-7"><use href="#RB" x="396"/></g><g id="n63-8"><use href="#RB" x="448"/></g><g id="n63-9"><use href="#RB" x="500"/></g><g id="n63-10"><use href="#RB" x="552"/></g></g>
<g id="row64" transform="translate(0,3338)"><text class="ln le" x="21" y="4.5">64</text><text class="ln" x="614" y="4.5">64</text><path class="gl" d="M26,0H67M569,0H609"/><g id="n64-1"><use href="#LB" x="84"/></g><g id="n64-2"><use href="#LW" x="136"/></g><g id="n64-3"><use href="#LW" x="188"/></g><g id="n64-4"><use href="#LW" x="240"/></g><g id="n64-5"><use href="#LB" x="292"/></g><g id="n64-6"><use href="#LB" x="344"/></g><g id="n64-7"><use href="#LW" x="396"/></g><g id="n64-8"><use href="#LW" x="448"/></g><g id="n64-9"><use href="#LB" x="500"/></g><g id="n64-10"><use href="#LB" x="552"/></g></g>
<g id="row65" transform="translate(0,3390)"><text class="ln le" x="21" y="4.5">65</text><text class="ln" x="614" y="4.5">65</text><path class="gl" d="M26,0H67M569,0H609"/><g id="n65-1"><use href="#RB" x="84"/></g><g id="n65-2"><use href="#RB" x="136"/></g><g id="n65-3"><use href="#RW" x="188"/></g><g id="n65-4"><use href="#RB" x="240"/></g><g id="n65-5"><use href="#RB" x="292"/></g><g id="n65-6"><use href="#RW" x="344"/></g><g id="n65-7"><use href="#RB" x="396"/></g><g id="n65-8"><use href="#RB" x="448"/></g><g id="n65-9"><use href="#RW" x="500"/></g><g id="n65-10"><use href="#RB" x="552"/></g></g>
<g id="row66" transform="translate(0,3442)"><text class="ln le" x="21" y="4.5">66</text><text class="ln" x="614" y="4.5">66</text><path class="gl" d="M26,0H67M569,0H609"/><g id="n66-1"><use href="#LB" x="84"/></g><g id="n66-2"><use href="#LW" x="136"/></g><g id="n66-3"><use href="#LB" x="188"/></g><g id="n66-4"><use href="#LB" x="240"/></g><g id="n66-5"><use href="#LW" x="292"/></g><g id="n66-6"><use href="#LW" x="344"/></g><g id="n66-7"><use href="#LB" x="396"/></g><g id="n66-8"><use href="#LB" x="448"/></g><g id="n66-9"><use href="#LW" x="500"/></g><g id="n66-10"><use href="#LB" x="552"/></g></g>
<g id="row67" transform="translate(0,3494)"><text class="ln le" x="21" y="4.5">67</text><text class="ln" x="614" y="4.5">67</text><path class="gl" d="M26,0H67M569,0H609"/><g id="n67-1"><use href="#RB" x="84"/></g><g id="n67-2"><use href="#RW" x="136"/></g><g id="n67-3"><use href="#RB" x="188"/></g><g id="n67-4"><use href="#RB" x="240"/></g><g id="n67-5"><use href="#RW" x="292"/></g><g id="n67-6"><use href="#RW" x="344"/></g><g id="n67-7"><use href="#RB" x="396"/></g><g id="n67-8"><use href="#RB" x="448"/></g><g id="n67-9"><use href="#RW" x="500"/></g><g id="n67-10"><use href="#RB" x="552"/></g></g>
<g id="row68" transform="translate(0,3546)"><text class="ln le" x="21" y="4.5">68</text><text class="ln" x="614" y="4.5">68</text><path class="gl" d="M26,0H67M569,0H609"/><g id="n68-1"><use href="#LB" x="84"/></g><g id="n68-2"><use href="#LW" x="136"/></g><g id="n68-3"><use href="#LB" x="188"/></g><g id="n68-4"><use href="#LB" x="240"/></g><g id="n68-5"><use href="#LW" x="292"/></g><g id="n68-6"><use href="#LW" x="344"/></g><g id="n68-7"><use href="#LB" x="396"/></g><g id="n68-8"><use href="#LB" x="448"/></g><g id="n68-9"><use href="#LW" x="500"/></g><g id="n68-10"><use href="#LB" x="552"/></g></g>
<g id="row69" transform="translate(0,3598)"><text class="ln le" x="21" y="4.5">69</text><text class="ln" x="614" y="4.5">69</text><path class="gl" d="M26,0H67M569,0H609"/><g id="n69-1"><use href="#RB" x="84"/></g><g id="n69-2"><use href="#RW" x="136"/></g><g id="n69-3"><use href="#RB" x="188"/></g><g id="n69-4"><use href="#RB" x="240"/></g><g id="n69-5"><use href="#RW" x="292"/></g><g id="n69-6"><use href="#RB" x="344"/></g><g id="n69-7"><use href="#RB" x="396"/></g><g id="n69-8"><use href="#RW" x="448"/></g><g id="n69-9"><use href="#RB" x="500"/></g><g id="n69-10"><use href="#RB" x="552"/></g></g>
<g id="row70" transform="translate(0,3650)"><text class="ln le" x="21" y="4.5">70</text><text class="ln" x="614" y="4.5">70</text><path class="gl" d="M569,0H609"/><g id="n70-1"><use href="#LB" x="84"/></g><g id="n70-2"><use href="#LB" x="136"/></g><g id="n70-3"><use href="#LW" x="188"/></g><g id="n70-4"><use href="#LW" x="240"/></g><g id="n70-5"><use href="#LB" x="292"/></g><g id="n70-6"><use href="#LB" x="344"/></g><g id="n70-7"><use href="#LW" x="396"/></g><g id="n70-8"><use href="#LW" x="448"/></g><g id="n70-9"><use href="#LW" x="500"/></g><g id="n70-10"><use href="#LB" x="552"/></g></g>
<g id="row71" transform="translate(0,3702)"><text class="ln le" x="21" y="4.5">71</text><text class="ln" x="614" y="4.5">71</text><path class="gl" d="M26,0H67"/><g id="n71-1"><use href="#RB" x="84"/></g><g id="n71-2"><use href="#RB" x="136"/></g><g id="n71-3"><use href="#RB" x="188"/></g><g id="n71-4"><use href="#RB" x="240"/></g><g id="n71-5"><use href="#RB" x="292"/></g><g id="n71-6"><use href="#RB" x="344"/></g><g id="n71-7"><use href="#RB" x="396"/></g><g id="n71-8"><use href="#RB" x="448"/></g><g id="n71-9"><use href="#RB" x="500"/></g><g id="n71-10"><use href="#RB" x="552"/></g></g>
</g>
<g id="watermark">
<rect x="239" y="1899" width="158" height="17" fill="#fff" fill-opacity="0.6"/>
<text class="wm" x="318" y="1913">BRACELETBOOK.COM</text>
</g>
</svg>
